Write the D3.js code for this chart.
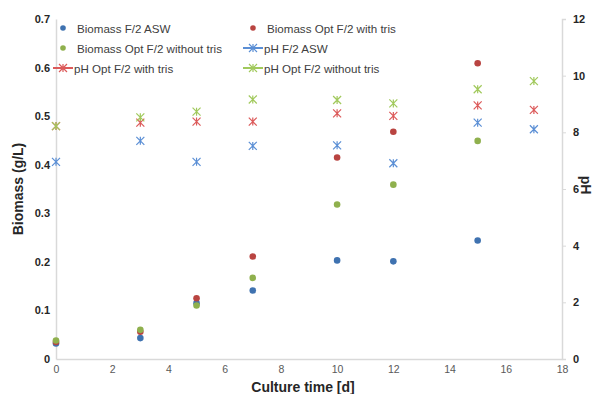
<!DOCTYPE html>
<html><head><meta charset="utf-8">
<script src="https://cdn.jsdelivr.net/npm/d3@7/dist/d3.min.js"></script>
<style>body{margin:0;background:#fff}svg{display:block;font-family:"Liberation Sans",Arial,sans-serif}</style>
</head><body><svg id="c" width="595" height="394"></svg>
<script>
const days = [0, 3, 5, 7, 10, 12, 15];
const pHDays = [0, 3, 5, 7, 10, 12, 15, 17];
const biomassASW = [0.032, 0.043, 0.115, 0.141, 0.203, 0.201, 0.244];
const biomassWithTris = [0.035, 0.056, 0.125, 0.211, 0.415, 0.468, 0.609];
const biomassWithoutTris = [0.038, 0.060, 0.110, 0.167, 0.318, 0.359, 0.449];
const pHASW = [6.96, 7.70, 6.96, 7.52, 7.54, 6.91, 8.34, 8.11];
const pHWithTris = [8.22, 8.34, 8.38, 8.38, 8.67, 8.58, 8.95, 8.79];
const pHWithoutTris = [8.22, 8.53, 8.73, 9.16, 9.14, 9.02, 9.52, 9.81];
const xTicks = [0, 2, 4, 6, 8, 10, 12, 14, 16, 18];
const yTicks = [0, 0.1, 0.2, 0.3, 0.4, 0.5, 0.6, 0.7];
const y2Ticks = [0, 2, 4, 6, 8, 10, 12];

const svg = d3.select("#c");
const L = 56, R = 562, T = 19, B = 359;
const x = d3.scaleLinear().domain([0, 18]).range([L, R]);
const y = d3.scaleLinear().domain([0, 0.7]).range([B, T]);
const y2 = d3.scaleLinear().domain([0, 12]).range([B, T]);
const axisCol = "#d9d9d9";

// axes
const gx = svg.append("g").attr("transform", `translate(0,${B})`)
  .call(d3.axisBottom(x).tickValues(xTicks).tickSize(0).tickPadding(7).tickFormat(d3.format("d")));
gx.select(".domain").attr("stroke", axisCol).attr("stroke-width", 1.5);
gx.selectAll("text").attr("font-size", 10.5).attr("fill", "#595959").attr("font-family", "Liberation Sans, Arial, sans-serif");

const gy = svg.append("g").attr("transform", `translate(${L},0)`)
  .call(d3.axisLeft(y).tickValues(yTicks).tickSize(0).tickPadding(6).tickFormat(d => d === 0 ? "0" : d3.format(".1f")(d)));
gy.select(".domain").attr("stroke", axisCol).attr("stroke-width", 1.5);
gy.selectAll("text").attr("font-size", 11).attr("font-weight", "bold").attr("fill", "#262626").attr("font-family", "Liberation Sans, Arial, sans-serif");

const gy2 = svg.append("g").attr("transform", `translate(${R},0)`)
  .call(d3.axisRight(y2).tickValues(y2Ticks).tickSize(4).tickPadding(7).tickFormat(d3.format("d")));
gy2.select(".domain").attr("stroke", axisCol).attr("stroke-width", 1.5);
gy2.selectAll("line").attr("stroke", axisCol);
gy2.selectAll("text").attr("font-size", 11).attr("font-weight", "bold").attr("fill", "#262626").attr("font-family", "Liberation Sans, Arial, sans-serif");

// axis titles
svg.append("text").attr("x", 303).attr("y", 392).attr("text-anchor", "middle")
  .attr("font-size", 14).attr("font-weight", "bold").attr("fill", "#262626").text("Culture time [d]");
svg.append("text").attr("transform", "translate(23,189) rotate(-90)").attr("text-anchor", "middle")
  .attr("font-size", 14).attr("font-weight", "bold").attr("fill", "#262626").text("Biomass (g/L)");
svg.append("text").attr("transform", "translate(581,185) rotate(90)").attr("text-anchor", "middle")
  .attr("font-size", 14).attr("font-weight", "bold").attr("fill", "#262626").text("pH");

const cBlue = "#3f72b0", cRed = "#b94441", cGreen = "#8fb04d";
const pBlue = "#5b8fd5", pRed = "#dc5a5a", pGreen = "#a1c95c";

function star(g, cx, cy, col) {
  const s = 4;
  const p = `M${cx - s},${cy - s}L${cx + s},${cy + s}M${cx - s},${cy + s}L${cx + s},${cy - s}M${cx},${cy - s}L${cx},${cy + s}`;
  g.append("path").attr("d", p).attr("stroke", col).attr("stroke-width", 1.2).attr("fill", "none");
}

// pH series (stars)
[[pHASW, pBlue], [pHWithTris, pRed], [pHWithoutTris, pGreen]].forEach(([vals, col]) => {
  const g = svg.append("g");
  vals.forEach((v, i) => star(g, x(pHDays[i]), y2(v), col));
});

// biomass series (dots)
[[biomassASW, cBlue], [biomassWithTris, cRed], [biomassWithoutTris, cGreen]].forEach(([vals, col]) => {
  svg.append("g").selectAll("circle").data(vals).join("circle")
    .attr("cx", (d, i) => x(days[i])).attr("cy", d => y(d)).attr("r", 3.3).attr("fill", col);
});

// legend
const legend = [
  {label: "Biomass F/2 ASW", col: cBlue, type: "dot", lx: 63, ly: 28},
  {label: "Biomass Opt F/2 with tris", col: cRed, type: "dot", lx: 253, ly: 28},
  {label: "Biomass Opt F/2 without tris", col: cGreen, type: "dot", lx: 63, ly: 48},
  {label: "pH F/2 ASW", col: pBlue, type: "line", lx: 253, ly: 48},
  {label: "pH Opt F/2 with tris", col: pRed, type: "line", lx: 63, ly: 68},
  {label: "pH Opt F/2 without tris", col: pGreen, type: "line", lx: 253, ly: 68}
];
const lg = svg.append("g");
legend.forEach(e => {
  if (e.type === "dot") {
    lg.append("circle").attr("cx", e.lx).attr("cy", e.ly).attr("r", 2.8).attr("fill", e.col);
    lg.append("text").attr("x", e.lx + 14).attr("y", e.ly + 4.5).attr("font-size", 11.6).attr("fill", "#404040").text(e.label);
  } else {
    lg.append("line").attr("x1", e.lx - 10).attr("x2", e.lx + 10).attr("y1", e.ly).attr("y2", e.ly)
      .attr("stroke", e.col).attr("stroke-width", 2);
    star(lg, e.lx, e.ly, e.col);
    lg.append("text").attr("x", e.lx + 11).attr("y", e.ly + 4.5).attr("font-size", 11.6).attr("fill", "#404040").text(e.label);
  }
});
</script></body></html>
